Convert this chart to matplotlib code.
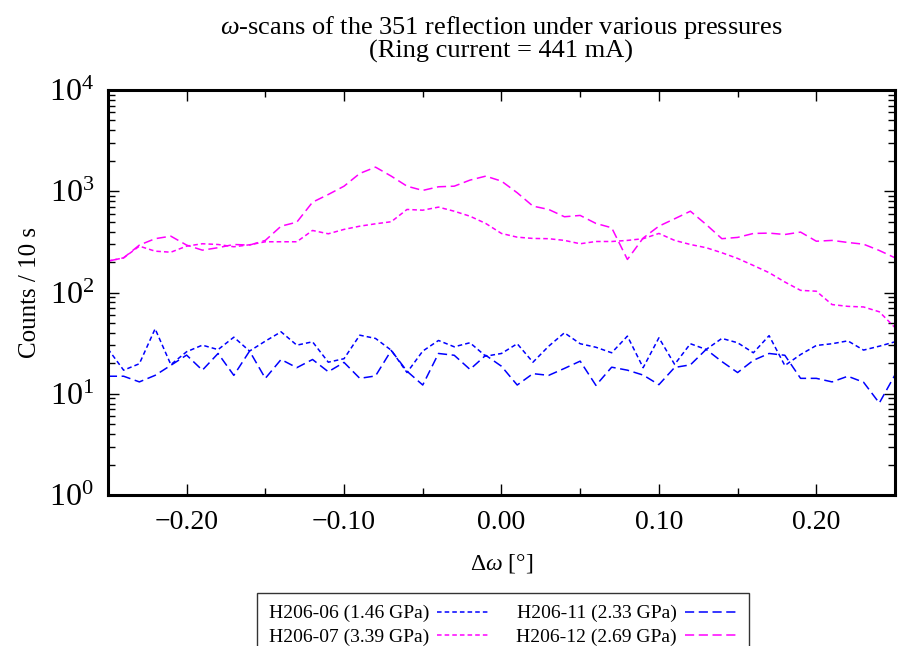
import numpy as np
import matplotlib
matplotlib.use("Agg")
import matplotlib.pyplot as plt
from matplotlib.ticker import LogLocator, MultipleLocator, FuncFormatter, NullFormatter

plt.rcParams['font.family'] = ['Liberation Serif', 'DejaVu Serif']
plt.rcParams['mathtext.fontset'] = 'custom'
plt.rcParams['mathtext.rm'] = 'Liberation Serif'
plt.rcParams['mathtext.it'] = 'Liberation Serif:italic'

# delta omega grid (deg)
d_omega = np.linspace(-0.25, 0.25, 51)

# counts / 10 s
h206_06 = [27.8, 17.1, 19.8, 43.8, 19.4, 26.0, 30.2, 27.3, 36.2, 26.4,
           33.1, 40.9, 30.2, 32.6, 20.5, 22.2, 37.9, 35.2, 26.9, 16.2,
           26.4, 33.6, 29.1, 31.9, 23.5, 25.0, 31.2, 20.5, 29.5, 40.0,
           31.2, 28.8, 25.4, 37.1, 18.1, 35.7, 19.5, 31.2, 27.4, 35.2,
           31.9, 25.4, 37.5, 19.0, 24.4, 30.0, 31.2, 33.3, 27.0, 29.5,
           32.6]
h206_11 = [14.9, 14.9, 13.1, 15.2, 19.1, 24.1, 17.1, 25.0, 15.2, 26.4,
           14.2, 21.8, 18.1, 21.8, 16.5, 20.4, 14.2, 15.0, 26.8, 16.7,
           12.2, 25.0, 24.0, 17.4, 24.0, 18.7, 12.2, 15.8, 15.2, 17.8,
           21.0, 12.1, 18.3, 17.1, 15.3, 12.3, 18.2, 19.3, 27.4, 20.8,
           16.2, 21.4, 25.0, 24.0, 14.2, 14.2, 13.1, 14.9, 13.0, 8.1,
           15.4]
h206_07 = [204, 220, 287, 256, 250, 287, 303, 298, 283, 296,
           317, 317, 317, 410, 380, 420, 452, 477, 500, 661,
           650, 697, 635, 567, 481, 383, 352, 342, 340, 327,
           303, 319, 319, 327, 340, 383, 327, 298, 277, 247,
           217, 185, 157, 127, 105, 103, 76, 73, 72, 64.5,
           45]
h206_12 = [204, 220, 294, 340, 360, 294, 262, 277, 298, 294,
           327, 452, 495, 780, 929, 1122, 1499, 1730, 1410, 1122,
           1019, 1107, 1122, 1288, 1410, 1259, 966, 713, 661, 560,
           577, 481, 436, 212, 345, 452, 535, 635, 470, 340,
           350, 383, 386, 374, 395, 321, 327, 312, 300, 260,
           220]

labels = ['H206-06 (1.46 GPa)', 'H206-07 (3.39 GPa)',
          'H206-11 (2.33 GPa)', 'H206-12 (2.69 GPa)']

fig = plt.figure(figsize=(8.99, 6.46), dpi=100)
ax = fig.add_axes([0.120, 0.2337, 0.8756, 0.627])

blue = '#0000ff'
mag = '#ff00ff'
short = (0, (3, 2))
long_ = (0, (6, 3))

l1, = ax.plot(d_omega, h206_06, color=blue, lw=1.1, linestyle=short)
l2, = ax.plot(d_omega, h206_07, color=mag, lw=1.1, linestyle=short)
l3, = ax.plot(d_omega, h206_11, color=blue, lw=1.1, linestyle=long_)
l4, = ax.plot(d_omega, h206_12, color=mag, lw=1.1, linestyle=long_)

ax.set_yscale('log')
ax.set_xlim(-0.25, 0.25)
ax.set_ylim(1, 1e4)

ax.xaxis.set_major_locator(MultipleLocator(0.1))
ax.xaxis.set_minor_locator(MultipleLocator(0.05))
ax.xaxis.set_major_formatter(FuncFormatter(lambda v, p: ('%.2f' % v).replace('-', '\u2212') if abs(v) > 1e-9 else '0.00'))
ax.yaxis.set_major_locator(LogLocator(base=10, numticks=10))
ax.yaxis.set_minor_locator(LogLocator(base=10, subs=np.arange(2, 10), numticks=20))
ax.yaxis.set_minor_formatter(NullFormatter())

ax.tick_params(which='both', direction='in', top=True, right=True, width=1.0)
ax.tick_params(axis='x', labelsize=20)
ax.tick_params(axis='y', labelsize=23)
ax.tick_params(which='major', length=8)
ax.tick_params(axis='x', which='major', pad=11)
ax.tick_params(axis='y', which='major', pad=10)
ax.tick_params(which='minor', length=5)
for s in ax.spines.values():
    s.set_linewidth(2.2)

ax.set_xlabel(r'$\Delta\omega$ [°]', fontsize=17, labelpad=12)
ax.set_ylabel('Counts / 10 s', fontsize=18, labelpad=6)
ax.set_title(r'$\omega$-scans of the 351 reflection under various pressures' + '\n(Ring current = 441 mA)',
             fontsize=19, linespacing=0.95, pad=23)

leg = fig.legend([l1, l2, l3, l4], labels, ncol=2, loc='upper center',
                 bbox_to_anchor=(0.5595, 0.082), fontsize=14, markerfirst=False,
                 frameon=True, fancybox=False, edgecolor='black', handlelength=2.7,
                 handletextpad=0.4, columnspacing=1.4, borderpad=0.6, labelspacing=0.3,
                 borderaxespad=0)
leg.get_frame().set_linewidth(1.0)

fig.savefig('out.png', dpi=100)
